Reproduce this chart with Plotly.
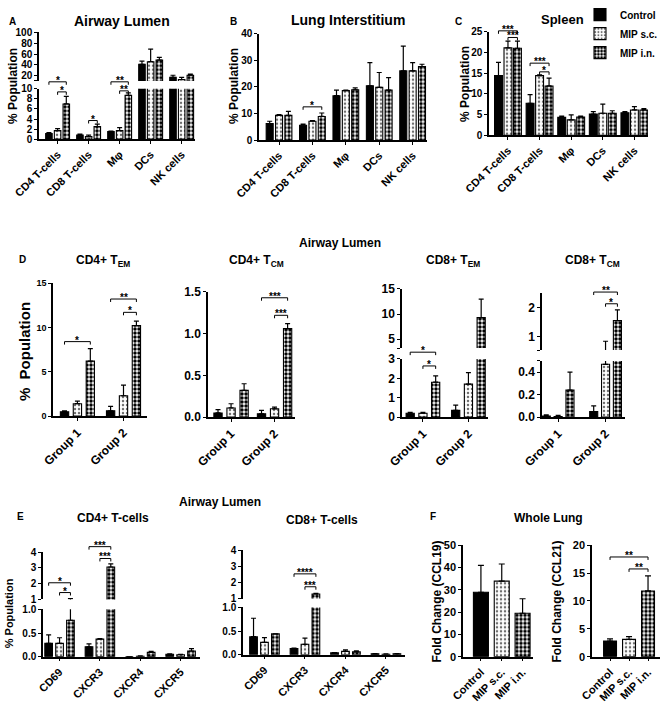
import plotly.graph_objects as go

# ---------------- data ----------------
SERIES = ["Control", "MIP s.c.", "MIP i.n."]

# A: Airway Lumen
A_CATS = ["CD4 T-cells", "CD8 T-cells", "Mφ", "DCs", "NK cells"]
A_CTRL = [1.1, 0.8, 1.5, 41, 17]
A_CTRL_ERR = [0.2, 0.2, 0.1, 6, 4]
A_SC = [1.7, 0.5, 1.7, 46, 13]
A_SC_ERR = [0.4, 0.3, 0.6, 23, 4]
A_IN = [7.0, 2.5, 8.7, 49, 21]
A_IN_ERR = [1.5, 0.5, 0.5, 5, 2]

# B: Lung Interstitium
B_CATS = A_CATS
B_CTRL = [6.2, 5.6, 16.7, 20.4, 26.0]
B_CTRL_ERR = [0.9, 0.4, 2.1, 8.7, 9.3]
B_SC = [9.3, 7.1, 18.6, 19.8, 26.0]
B_SC_ERR = [0.3, 0.2, 0.2, 5.6, 3.1]
B_IN = [9.3, 8.9, 18.9, 18.8, 27.6]
B_IN_ERR = [1.5, 1.3, 0.7, 4.7, 0.9]

# C: Spleen
C_CATS = A_CATS
C_CTRL = [14.4, 7.7, 4.3, 5.1, 5.4]
C_CTRL_ERR = [3.2, 2.1, 0.3, 0.6, 0.3]
C_SC = [21.1, 14.4, 3.7, 5.3, 6.1]
C_SC_ERR = [1.6, 0.2, 1.2, 2.2, 0.8]
C_IN = [21.0, 11.9, 4.4, 5.3, 6.1]
C_IN_ERR = [1.7, 1.9, 0.2, 0.6, 0.3]

# D: Airway Lumen memory subsets
D_CATS = ["Group 1", "Group 2"]
D1_CTRL = [0.5, 0.6]
D1_CTRL_ERR = [0.1, 0.5]
D1_SC = [1.4, 2.3]
D1_SC_ERR = [0.3, 1.2]
D1_IN = [6.2, 10.2]
D1_IN_ERR = [1.4, 0.5]

D2_CTRL = [0.05, 0.04]
D2_CTRL_ERR = [0.04, 0.04]
D2_SC = [0.11, 0.10]
D2_SC_ERR = [0.05, 0.02]
D2_IN = [0.32, 1.06]
D2_IN_ERR = [0.08, 0.06]

D3_CTRL = [0.2, 0.35]
D3_CTRL_ERR = [0.05, 0.27]
D3_SC = [0.2, 1.7]
D3_SC_ERR = [0.05, 0.6]
D3_IN = [1.8, 9.3]
D3_IN_ERR = [0.33, 3.7]

D4_CTRL = [0.01, 0.05]
D4_CTRL_ERR = [0.01, 0.05]
D4_SC = [0.005, 0.47]
D4_SC_ERR = [0.01, 0.36]
D4_IN = [0.24, 1.55]
D4_IN_ERR = [0.16, 0.38]

# E: Airway Lumen receptors
E_CATS = ["CD69", "CXCR3", "CXCR4", "CXCR5"]
E1_CTRL = [0.28, 0.21, 0.0, 0.05]
E1_CTRL_ERR = [0.18, 0.06, 0.0, 0.01]
E1_SC = [0.28, 0.37, 0.01, 0.04]
E1_SC_ERR = [0.12, 0.01, 0.005, 0.01]
E1_IN = [0.77, 3.06, 0.09, 0.12]
E1_IN_ERR = [0.29, 0.2, 0.02, 0.05]

E2_CTRL = [0.38, 0.13, 0.04, 0.02]
E2_CTRL_ERR = [0.39, 0.01, 0.005, 0.005]
E2_SC = [0.26, 0.22, 0.07, 0.01]
E2_SC_ERR = [0.1, 0.13, 0.03, 0.01]
E2_IN = [0.44, 1.28, 0.06, 0.02]
E2_IN_ERR = [0.0, 0.04, 0.02, 0.005]

# F: Whole Lung
F_CATS = ["Control", "MIP s.c.", "MIP i.n."]
F1_VALS = [28.9, 33.9, 19.5]
F1_ERR = [12.1, 7.7, 6.5]
F2_VALS = [2.8, 3.1, 11.8]
F2_ERR = [0.4, 0.5, 2.7]

# significance brackets: (group index, series from, series to, height, label)
A_SIG = [(0, 0, 2, 11.4, "*"), (0, 1, 2, 9.4, "*"), (1, 1, 2, 3.7, "*"),
         (2, 0, 2, 11.4, "**"), (2, 1, 2, 9.6, "**")]
B_SIG = [(1, 0, 2, 12.5, "*")]
C_SIG = [(0, 0, 2, 25.2, "***"), (0, 1, 2, 23.6, "***"),
         (1, 0, 2, 17.4, "***"), (1, 1, 2, 15.3, "*")]
D1_SIG = [(0, 0, 2, 8.4, "*"), (1, 0, 2, 13.2, "**"), (1, 1, 2, 11.7, "*")]
D2_SIG = [(1, 0, 2, 1.43, "***"), (1, 1, 2, 1.22, "***")]
D3_SIG = [(0, 0, 2, 3.35, "*"), (0, 1, 2, 2.64, "*")]
D4_SIG = [(1, 0, 2, 2.55, "**"), (1, 1, 2, 2.14, "*")]
E1_SIG = [(0, 0, 2, 2.06, "*"), (0, 1, 2, 1.44, "*"),
          (1, 0, 2, 4.35, "***"), (1, 1, 2, 3.6, "***")]
E2_SIG = [(1, 0, 2, 2.53, "****"), (1, 1, 2, 1.73, "***")]
F2_SIG = [(0, 2, 17.9, "**"), (1, 2, 15.75, "**")]

# ---------------- styling helpers ----------------
W, H = 669, 703
FONT = "Liberation Sans"

fig = go.Figure()
_ax = [0]


def marker_for(name):
    line = dict(color="black", width=1.1)
    if name == "Control":
        return dict(color="black", line=line)
    if name == "MIP s.c.":
        return dict(color="white", line=line,
                    pattern=dict(shape=".", fgcolor="#6e6e6e", bgcolor="white",
                                 size=4, solidity=0.3))
    return dict(color="white", line=line,
                pattern=dict(shape=".", fgcolor="black", bgcolor="white",
                             size=4, solidity=0.6))


def make_axes(xpx, ypx, xr, yr, ytv, ytt, cats=None, show_x=True,
              xfont=11, yfont=11):
    _ax[0] += 1
    n = _ax[0]
    s = "" if n == 1 else str(n)
    xa = dict(domain=[xpx[0] / W, xpx[1] / W], range=xr, anchor="y" + s,
              showgrid=False, zeroline=False, fixedrange=True, automargin=False)
    if show_x:
        xa.update(showline=True, linecolor="black", linewidth=1.5,
                  ticks="outside", ticklen=3, tickwidth=1.2, tickcolor="black",
                  tickvals=list(range(len(cats))), ticktext=cats,
                  tickangle=-45, tickfont=dict(size=xfont, color="black"))
    else:
        xa.update(showline=False, showticklabels=False, ticks="")
    ya = dict(domain=[1 - ypx[1] / H, 1 - ypx[0] / H], range=yr,
              anchor="x" + s, showgrid=False, zeroline=False, showline=True,
              linecolor="black", linewidth=1.5, ticks="outside", ticklen=3,
              tickwidth=1.2, tickcolor="black", tickvals=ytv, ticktext=ytt,
              tickfont=dict(size=yfont, color="black"), fixedrange=True,
              automargin=False)
    fig.update_layout(**{"xaxis" + s: xa, "yaxis" + s: ya})
    return dict(n=n, s=s, ypx=ypx, yr=yr)


def add_bars(ax, vals3, errs3, off, width, legend=False):
    for k, (name, vals, errs) in enumerate(zip(SERIES, vals3, errs3)):
        xs = [i + (k - 1) * off for i in range(len(vals))]
        fig.add_trace(go.Bar(
            x=xs, y=vals, width=width, name=name, showlegend=legend,
            legendgroup=name, marker=marker_for(name),
            error_y=dict(type="data", symmetric=False, array=errs,
                         arrayminus=[0] * len(vals), color="black",
                         thickness=1.2, width=2.5),
            xaxis="x" + ax["s"], yaxis="y" + ax["s"], hoverinfo="skip"))


def add_single_bars(ax, vals, errs, width):
    for k, name in enumerate(SERIES):
        fig.add_trace(go.Bar(
            x=[k], y=[vals[k]], width=width, name=name, showlegend=False,
            marker=marker_for(name),
            error_y=dict(type="data", symmetric=False, array=[errs[k]],
                         arrayminus=[0], color="black", thickness=1.2, width=3),
            xaxis="x" + ax["s"], yaxis="y" + ax["s"], hoverinfo="skip"))


def bracket(ax, x0, x1, yv, label, drop=3, size=10):
    r0, r1 = ax["yr"]
    hpx = ax["ypx"][1] - ax["ypx"][0]
    f = (yv - r0) / (r1 - r0)
    d = drop / hpx
    s = ax["s"]
    fig.add_shape(type="path",
                  path=f"M {x0},{f - d} L {x0},{f} L {x1},{f} L {x1},{f - d}",
                  xref="x" + s, yref="y" + s + " domain",
                  line=dict(color="black", width=1))
    fig.add_annotation(x=(x0 + x1) / 2, y=f, xref="x" + s,
                       yref="y" + s + " domain", text=label, showarrow=False,
                       yanchor="bottom", yshift=-6,
                       font=dict(size=size, color="black"))


def sigs(ax, sig_list, off):
    for g, a, b, yv, lab in sig_list:
        bracket(ax, g + (a - 1) * off, g + (b - 1) * off, yv, lab)


def text(xp, yp, t, size=10, angle=0, xanchor="center"):
    fig.add_annotation(x=xp / W, y=1 - yp / H, xref="paper", yref="paper",
                       text=t, showarrow=False, xanchor=xanchor,
                       yanchor="middle", textangle=angle,
                       font=dict(size=size, color="black"))


# ---------------- Row 1 ----------------
ABC_XR = [-0.6, 4.43]
OFF5, W5 = 0.28, 0.21

# A (broken axis)
a_up = make_axes([39, 195], [22, 72], ABC_XR, [10.4, 101.3],
                 [10.4, 20, 40, 60, 80, 100], ["", "20", "40", "60", "80", "100"],
                 show_x=False, yfont=10)
add_bars(a_up, [A_CTRL, A_SC, A_IN], [A_CTRL_ERR, A_SC_ERR, A_IN_ERR], OFF5, W5)
a_lo = make_axes([39, 195], [80, 131], ABC_XR, [0, 10],
                 [0, 2, 4, 6, 8, 10], ["0", "2", "4", "6", "8", "10"], cats=A_CATS,
                 xfont=11, yfont=10)
add_bars(a_lo, [A_CTRL, A_SC, A_IN], [A_CTRL_ERR, A_SC_ERR, A_IN_ERR], OFF5, W5)
sigs(a_lo, A_SIG, OFF5)

# B
b_ax = make_axes([259, 427], [24, 132], ABC_XR, [0, 40],
                 [0, 10, 20, 30, 40], ["0", "10", "20", "30", "40"], cats=B_CATS,
                 xfont=11, yfont=10)
add_bars(b_ax, [B_CTRL, B_SC, B_IN], [B_CTRL_ERR, B_SC_ERR, B_IN_ERR], OFF5, W5)
sigs(b_ax, B_SIG, OFF5)

# C
c_ax = make_axes([489, 648], [22, 127], ABC_XR, [0, 25],
                 [0, 5, 10, 15, 20, 25], ["0", "5", "10", "15", "20", "25"], cats=C_CATS,
                 xfont=11, yfont=10)
add_bars(c_ax, [C_CTRL, C_SC, C_IN], [C_CTRL_ERR, C_SC_ERR, C_IN_ERR], 0.3, 0.25,
         legend=True)
sigs(c_ax, C_SIG, 0.3)

# ---------------- Row 2 (D) ----------------
OFFD, WD = 0.28, 0.18
d1 = make_axes([53, 147], [277, 412], [-0.53, 1.51], [0, 15],
               [0, 5, 10, 15], ["0", "5", "10", "15"], cats=D_CATS,
               xfont=12, yfont=9)
add_bars(d1, [D1_CTRL, D1_SC, D1_IN], [D1_CTRL_ERR, D1_SC_ERR, D1_IN_ERR], OFFD, WD)
sigs(d1, D1_SIG, OFFD)

d2 = make_axes([208, 295], [286, 413], [-0.53, 1.47], [0, 1.5],
               [0, 0.5, 1.0, 1.5], ["0.0", "0.5", "1.0", "1.5"], cats=D_CATS,
               xfont=12, yfont=12)
add_bars(d2, [D2_CTRL, D2_SC, D2_IN], [D2_CTRL_ERR, D2_SC_ERR, D2_IN_ERR], 0.3, 0.19)
sigs(d2, D2_SIG, 0.3)

d3_up = make_axes([402, 488], [283, 343], [-0.46, 1.43], [3.24, 15],
                  [3.24, 5, 10, 15], ["", "5", "10", "15"], show_x=False, yfont=12)
add_bars(d3_up, [D3_CTRL, D3_SC, D3_IN], [D3_CTRL_ERR, D3_SC_ERR, D3_IN_ERR], OFFD, WD)
d3_lo = make_axes([402, 488], [354, 413], [-0.46, 1.43], [0, 3],
                  [0, 1, 2, 3], ["0", "1", "2", "3"], cats=D_CATS,
                  xfont=12, yfont=12)
add_bars(d3_lo, [D3_CTRL, D3_SC, D3_IN], [D3_CTRL_ERR, D3_SC_ERR, D3_IN_ERR], OFFD, WD)
sigs(d3_lo, D3_SIG, OFFD)

d4_up = make_axes([542, 625], [287, 345], [-0.34, 1.41], [0.52, 2.52],
                  [0.52, 1, 2], ["", "1", "2"], show_x=False, yfont=12)
add_bars(d4_up, [D4_CTRL, D4_SC, D4_IN], [D4_CTRL_ERR, D4_SC_ERR, D4_IN_ERR], 0.25, 0.17)
sigs(d4_up, D4_SIG, 0.25)
d4_lo = make_axes([542, 625], [356, 413], [-0.34, 1.41], [0, 0.5],
                  [0, 0.2, 0.4, 0.5], ["0.0", "0.2", "0.4", ""], cats=D_CATS,
                  xfont=12, yfont=12)
add_bars(d4_lo, [D4_CTRL, D4_SC, D4_IN], [D4_CTRL_ERR, D4_SC_ERR, D4_IN_ERR], 0.25, 0.17)

# ---------------- Row 3 (E) ----------------
OFFE, WE = 0.27, 0.19
e1_up = make_axes([43, 200], [550, 598], [-0.41, 3.48], [1, 4],
                  [1, 2, 3, 4], ["1", "2", "3", "4"], show_x=False, yfont=10)
add_bars(e1_up, [E1_CTRL, E1_SC, E1_IN], [E1_CTRL_ERR, E1_SC_ERR, E1_IN_ERR], OFFE, WE)
sigs(e1_up, E1_SIG, OFFE)
e1_lo = make_axes([43, 200], [608, 656], [-0.41, 3.48], [0, 1],
                  [0, 0.5, 1.0], ["0.0", "0.5", "1.0"], cats=E_CATS,
                  xfont=11, yfont=10)
add_bars(e1_lo, [E1_CTRL, E1_SC, E1_IN], [E1_CTRL_ERR, E1_SC_ERR, E1_IN_ERR], OFFE, WE)

e2_up = make_axes([243, 405], [548, 597], [-0.53, 3.47], [1, 4],
                  [1, 2, 3, 4], ["1", "2", "3", "4"], show_x=False, yfont=10)
add_bars(e2_up, [E2_CTRL, E2_SC, E2_IN], [E2_CTRL_ERR, E2_SC_ERR, E2_IN_ERR], OFFE, WE)
sigs(e2_up, E2_SIG, OFFE)
e2_lo = make_axes([243, 405], [606, 654], [-0.53, 3.47], [0, 1],
                  [0, 0.5, 1.0], ["0.0", "0.5", "1.0"], cats=E_CATS,
                  xfont=11, yfont=10)
add_bars(e2_lo, [E2_CTRL, E2_SC, E2_IN], [E2_CTRL_ERR, E2_SC_ERR, E2_IN_ERR], OFFE, WE)

# ---------------- Row 3 (F) ----------------
f1 = make_axes([463, 533], [543, 656], [-0.86, 2.5], [0, 50],
               [0, 10, 20, 30, 40, 50], ["0", "10", "20", "30", "40", "50"],
               cats=F_CATS, xfont=11, yfont=11)
add_single_bars(f1, F1_VALS, F1_ERR, 0.72)
f2 = make_axes([592, 660], [543, 656], [-0.95, 2.63], [0, 20],
               [0, 5, 10, 15, 20], ["0", "5", "10", "15", "20"],
               cats=F_CATS, xfont=11, yfont=11)
add_single_bars(f2, F2_VALS, F2_ERR, 0.68)
for a, b, yv, lab in F2_SIG:
    bracket(f2, a, b, yv, lab)

# ---------------- titles / labels ----------------
text(13, 12, "A", 10)
text(122, 11, "Airway Lumen", 14)
text(233, 12, "B", 10)
text(348, 10, "Lung Interstitium", 14)
text(458, 12, "C", 10)
text(562, 10, "Spleen", 13)
text(13, 77, "% Population", 12, -90)
text(234, 77, "% Population", 12, -90)
text(465, 75, "% Population", 12, -90)

text(340, 236, "Airway Lumen", 12)
text(22, 253, "D", 10)
text(103, 255, "CD4+ T<sub>EM</sub>", 12)
text(256, 255, "CD4+ T<sub>CM</sub>", 12)
text(453, 255, "CD8+ T<sub>EM</sub>", 12)
text(592, 255, "CD8+ T<sub>CM</sub>", 12)
text(24, 347, "%  Population", 15, -90)

text(220, 499, "Airway Lumen", 12)
text(20, 514, "E", 10)
text(113, 515, "CD4+ T-cells", 12)
text(322, 517, "CD8+ T-cells", 12)
text(9, 612, "% Population", 11, -90)

text(433, 514, "F", 10)
text(548, 515, "Whole Lung", 12)
text(437, 600, "Fold Change (CCL19)", 12, -90)
text(557, 600, "Fold Change (CCL21)", 12, -90)

fig.update_layout(
    template="none",
    width=W, height=H, margin=dict(l=0, r=0, t=0, b=0, pad=0),
    paper_bgcolor="white", plot_bgcolor="white", barmode="overlay",
    font=dict(family=FONT, size=10, color="black", weight="bold"),
    legend=dict(x=580 / W, y=1 + 10 / H, xanchor="left", yanchor="top",
                bgcolor="rgba(0,0,0,0)", font=dict(size=10, color="black"),
                itemwidth=30, tracegroupgap=0),
)

fig.write_html(
    "out.html",
    config={"displayModeBar": False},
    post_script="document.body.style.margin='0';document.body.style.padding='0';"
                "document.body.style.overflow='hidden';",
)
